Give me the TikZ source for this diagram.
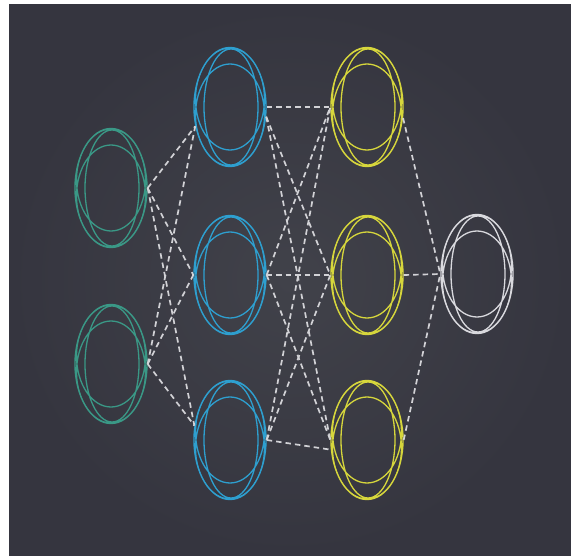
\documentclass[tikz,border=0pt]{standalone}
\usepackage{tikz}
\usetikzlibrary{shapes.geometric}
\definecolor{NNbg}{HTML}{35353F}
\definecolor{NNbgmid}{HTML}{41424A}
\definecolor{NNteal}{HTML}{3A9886}
\definecolor{NNblue}{HTML}{2E9FCF}
\definecolor{NNyellow}{HTML}{D6D63C}
\definecolor{NNwhite}{HTML}{D9D9DE}
\definecolor{NNlink}{HTML}{D2D2D6}

\begin{document}
\begin{tikzpicture}[
  x=1pt, y=-1pt,
  neuron/.style={ellipse, draw=#1, line width=1.4pt,
                 minimum width=72pt, minimum height=119pt, inner sep=0pt,
                 path picture={
                   \draw[#1, line width=1.3pt]
                     ([xshift=1pt]path picture bounding box.center) ellipse (27pt and 58pt)
                     ([yshift=-8pt]path picture bounding box.center) ellipse (34.5pt and 51pt)
                     ([yshift=8pt]path picture bounding box.center) ellipse (34.5pt and 51pt);
                 }},
  link/.style={NNlink, line width=1.7pt, dash pattern=on 5.5pt off 4pt},
]
\fill[white] (0,0) rectangle (571,556);
\fill[inner color=NNbgmid, outer color=NNbg] (9,5) rectangle (571,556);
\useasboundingbox (0,0) rectangle (571,556);

% input layer
\node[neuron=NNteal] (in1) at (111,188) {};
\node[neuron=NNteal] (in2) at (111,364) {};
% first hidden layer
\node[neuron=NNblue] (ha1) at (230,107) {};
\node[neuron=NNblue] (ha2) at (230,275) {};
\node[neuron=NNblue] (ha3) at (230,440) {};
% second hidden layer
\node[neuron=NNyellow] (hb1) at (367,107) {};
\node[neuron=NNyellow] (hb2) at (367,275) {};
\node[neuron=NNyellow] (hb3) at (367,440) {};
% output
\node[neuron=NNwhite] (out) at (477,274) {};

\draw[link] (in1.east) -- (ha1.209);
\draw[link] (in1.east) -- (ha2.west);
\draw[link] (in1.east) -- (ha3.158);
\draw[link] (in2.east) -- (ha1.209);
\draw[link] (in2.east) -- (ha2.west);
\draw[link] (in2.east) -- (ha3.158);

\draw[link] (ha1.east) -- (hb1.west);
\draw[link] (ha1.-15) -- (hb2.west);
\draw[link] (ha1.-15) -- (hb3.west);
\draw[link] (ha2.east) -- (hb1.west);
\draw[link] (ha2.east) -- (hb2.west);
\draw[link] (ha2.east) -- (hb3.west);
\draw[link] (ha3.east) -- (hb1.west);
\draw[link] (ha3.east) -- (hb2.west);
\draw[link] (ha3.east) -- (hb3.195);

\draw[link] (hb1.-17) -- (out.west);
\draw[link] (hb2.east) -- (out.west);
\draw[link] (hb3.east) -- (out.west);
\end{tikzpicture}
\end{document}
